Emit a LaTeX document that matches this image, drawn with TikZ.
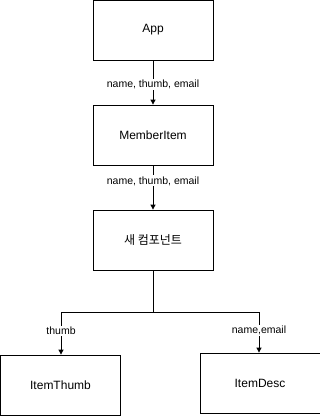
\documentclass[tikz,border=0pt]{standalone}
\usepackage{fontspec}
\setmainfont{Liberation Sans}
\newfontfamily\krfont{Noto Sans CJK KR}
\usetikzlibrary{arrows.meta}
\begin{document}
\begin{tikzpicture}[x=1pt,y=-1pt,
  box/.style={draw,line width=0.8pt,minimum width=120pt,minimum height=60pt,inner sep=0pt,font=\fontsize{12}{14}\selectfont},
  conn/.style={line width=0.8pt,-{Triangle[length=5pt,width=5pt]}},
  lbl/.style={fill=white,inner sep=1pt,font=\fontsize{10.5}{12}\selectfont}]
\useasboundingbox (0,0) rectangle (320,416);
\node[box] (app) at (153,30) {App};
\node[box] (member) at (153,135) {MemberItem};
\node[box] (comp) at (153,240) {\krfont 새 컴포넌트};
\node[box] (thumb) at (60.5,385) {ItemThumb};
\node[box] (desc) at (260,383) {ItemDesc};
\coordinate (j) at (153,312);
\coordinate (jl) at (61,312);
\coordinate (jr) at (259,312);
\draw[conn] (app) -- node[lbl,pos=0.55] {name, thumb, email} (member);
\draw[conn] (member) -- node[lbl,pos=0.35] {name, thumb, email} (comp);
\draw[line width=0.8pt] (comp.south) -- (j) -- (jl);
\draw[line width=0.8pt] (j) -- (jr);
\draw[conn] (jl) -- node[lbl,pos=0.45] {thumb} (jl |- thumb.north);
\draw[conn] (jr) -- node[lbl,pos=0.45] {name,email} (jr |- desc.north);
\end{tikzpicture}
\end{document}
